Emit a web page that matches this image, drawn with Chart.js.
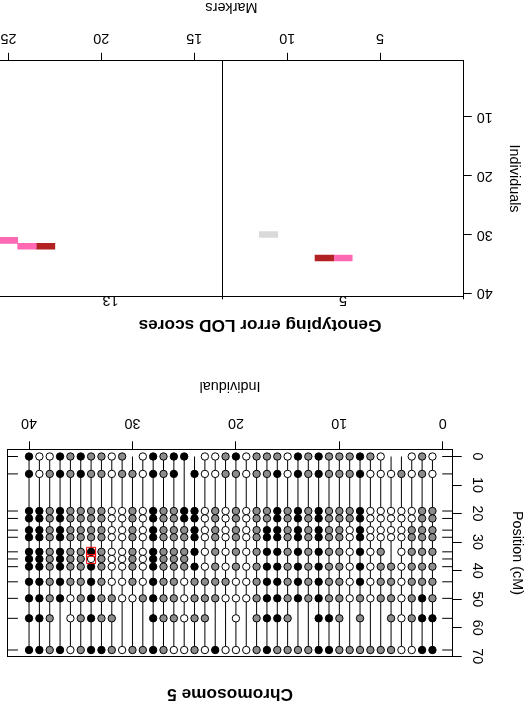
<!DOCTYPE html>
<html>
<head>
<meta charset="utf-8">
<title>Chromosome 5 genotypes and genotyping error LOD scores</title>
<script src="https://cdn.jsdelivr.net/npm/chart.js@4.4.1/dist/chart.umd.min.js"></script>
<style>
  html, body { margin: 0; padding: 0; background: #fff; overflow: hidden; }
  /* the whole sheet is shown turned upside down */
  #sheet { position: relative; width: 526px; height: 708px; overflow: hidden; background: #fff; transform: rotate(180deg); }
  #genoCanvas { position: absolute; left: 0; top: 0; }
  #elodCanvas { position: absolute; left: 0; top: 340px; }
</style>
</head>
<body>
<div id="sheet">
  <canvas id="genoCanvas" width="526" height="340"></canvas>
  <canvas id="elodCanvas" width="540" height="380"></canvas>
</div>
<script>
// ---- chromosome 5 genotype data ----
// marker positions on chromosome 5 (cM)
const markerPos = [0, 6.1, 19.1, 21.7, 25.8, 28.3, 33.4, 35.9, 38.6, 43.9, 49.7, 56.7, 67.8];
const individuals = [1, 2, 3, 4, 5, 6, 7, 8, 9, 10, 11, 12, 13, 14, 15, 16, 17, 18, 19, 20,
                     21, 22, 23, 24, 25, 26, 27, 28, 29, 30, 31, 32, 33, 34, 35, 36, 37, 38, 39, 40];
// one string per individual, one character per marker: A = AA, H = AB, B = BB, - = missing
const genotypes = [
  "AAHHHHH-HHHBB", "HHHHHHH-HHBBB", "AAAAHHH-HHHHA", "-HAAAAA-AAAAA", "-AAAAA--HHHHH",
  "AAAAAAH-HHH-H", "HAAAAAA-AAA-H", "BBBBBBB-BBHHH", "HHHHAAA-AAA-H", "HHHHHHH-HHHHH",
  "HHHHHHH-HHHBB", "BBBBBBB-BBBBB", "HHHHHHH-HHH-H", "BBBBBBB-BBB-H", "AAHHHHH-HHHHH",
  "HBBBBBB-BBBBH", "HHHHBBB-BBBBB", "HHHHHHH-HHHHH", "AAAAAAA-AAA-A", "BHHHHHH-HAAAA",
  "HHAAAAA-AHA-A", "AAHHHHH-HHH-B", "AAAAAAA-AHHHA", "-BBBBBB-BHHHH", "B-BBHHHHHAAAA",
  "BBHHHHHHHHHHA", "HHHHHHHHHHHHH", "BBBBBBBBBBBBB", "AAAAAAAAAAH-H", "-HHHHHHHHHA-H",
  "HHAAAAAAAAA-A", "AAAAAAAAAAHHH", "HHHHHHHHHHHHB", "HHHHHHBABBBBB", "BBHHHHHHHHHHH",
  "HHHHHHHHHHAAA", "BBBBBBBBBBB-B", "AHHHHHHHHHHHH", "AABBBBBBBBBBB", "BBBBBBBBBBBBB"
];
const genoFill = { A: "#ffffff", H: "#8c8c8c", B: "#000000" };

// ---- genotyping error LOD scores (chromosomes 5 and 13) ----
const chromosomes = ["5", "13"];
const chrMarkerCount = [13, 12];
const errMarker = [7, 8, 11, 23, 24, 25];
const errInd = [34, 34, 30, 32, 32, 31];
const errLevel = [2, 3, 1, 3, 2, 2];           // LOD class of each cell
const levelColors = ["#ffffff", "#d9d9d9", "#ff69b4", "#b22222"];

// ---- tick labels ----
const indTicks = [0, 10, 20, 30, 40];
const posTicks = [0, 10, 20, 30, 40, 50, 60, 70];
const markerTicks = [5, 10, 15, 20, 25];
const elodIndTicks = [10, 20, 30, 40];

Chart.defaults.font.family = '"Liberation Sans", Arial, Helvetica, sans-serif';
Chart.defaults.font.size = 14.4;
Chart.defaults.color = "#000";
Chart.defaults.animation = false;
Chart.defaults.plugins.legend.display = false;
Chart.defaults.plugins.tooltip.enabled = false;

const setTicks = vals => scale => { scale.ticks = vals.map(v => ({ value: v })); };
const fixWidth = w => scale => { scale.width = w; };
const fixHeight = h => scale => { scale.height = h; };

// vertical line for each individual from first to last marker
const linePts = [];
individuals.forEach(i => {
  linePts.push({ x: i, y: markerPos[0] }, { x: i, y: markerPos[markerPos.length - 1] }, { x: i, y: null });
});
const genoPoints = code => {
  const pts = [];
  genotypes.forEach((row, k) => {
    [...row].forEach((g, j) => { if (g === code) pts.push({ x: individuals[k], y: markerPos[j] }); });
  });
  return pts;
};
// genotypes on chromosome 5 whose error LOD passes the cutoff
const flagged = errMarker
  .map((m, k) => ({ m, ind: errInd[k], lvl: errLevel[k] }))
  .filter(e => e.m <= chrMarkerCount[0] && e.lvl >= 2)
  .map(e => ({ x: e.ind, y: markerPos[e.m - 1] }));

// small inner ticks at each marker position on both sides of the frame
const markerTickPlugin = {
  id: "markerTicks",
  afterDatasetsDraw(chart) {
    const { ctx, chartArea: a } = chart;
    const y = chart.scales.y;
    ctx.save();
    ctx.strokeStyle = "#000";
    ctx.lineWidth = 1;
    ctx.beginPath();
    markerPos.forEach(p => {
      const py = y.getPixelForValue(p);
      ctx.moveTo(a.left, py); ctx.lineTo(a.left + 10.5, py);
      ctx.moveTo(a.right, py); ctx.lineTo(a.right - 10.5, py);
    });
    ctx.stroke();
    ctx.restore();
  }
};

const dotSet = (label, code) => ({
  label, data: genoPoints(code), backgroundColor: genoFill[code], borderColor: "#000",
  borderWidth: 1, pointRadius: 3.7, pointHoverRadius: 3.7, order: 3
});

new Chart(document.getElementById("genoCanvas"), {
  type: "scatter",
  data: {
    datasets: [
      { label: "individual", data: linePts, showLine: true, spanGaps: false, borderColor: "#000",
        borderWidth: 1, pointRadius: 0, pointHoverRadius: 0, order: 4 },
      dotSet("AA", "A"),
      dotSet("AB", "H"),
      dotSet("BB", "B"),
      { label: "likely error", data: flagged, pointStyle: "rect", pointRadius: 6.4, pointHoverRadius: 6.4,
        backgroundColor: "rgba(0,0,0,0)", borderColor: "#ff0000", borderWidth: 1, order: 1 }
    ]
  },
  options: {
    responsive: false, devicePixelRatio: 1, events: [],
    layout: { padding: 0 },
    scales: {
      x: {
        type: "linear", position: "bottom", min: -0.96, max: 42.09,
        afterBuildTicks: setTicks(indTicks), afterFit: fixHeight(81.3),
        grid: { drawOnChartArea: false, tickLength: 8, color: "#000" },
        border: { color: "#000" },
        ticks: { padding: 10, maxRotation: 0, autoSkip: false },
        title: { display: true, text: "Individual", padding: { top: 0, bottom: 9.4 } }
      },
      xTop: {
        axis: "x", type: "linear", position: "top", min: -0.96, max: 42.09,
        afterBuildTicks: setTicks([]), afterFit: fixHeight(51.3),
        grid: { drawOnChartArea: false, drawTicks: false },
        border: { color: "#000" },
        ticks: { display: false },
        title: { display: true, text: "Chromosome 5", font: { size: 17.3, weight: "bold" }, padding: { top: 3.6, bottom: 0 } }
      },
      y: {
        type: "linear", position: "left", min: -2.52, max: 70.15,
        afterBuildTicks: setTicks(posTicks), afterFit: fixWidth(73.3),
        grid: { drawOnChartArea: false, tickLength: 9, color: "#000" },
        border: { color: "#000" },
        ticks: { minRotation: 90, maxRotation: 90, crossAlign: "center", padding: 7, autoSkip: false },
        title: { display: true, text: "Position (cM)", padding: { top: 0, bottom: 0 } }
      },
      yR: {
        axis: "y", type: "linear", position: "right", min: -2.52, max: 70.15,
        afterBuildTicks: setTicks([]), afterFit: fixWidth(5),
        grid: { drawOnChartArea: false, drawTicks: false },
        border: { color: "#000" },
        ticks: { display: false }
      }
    }
  },
  plugins: [markerTickPlugin]
});

// ---- error LOD image ----
const cells = errMarker.map((m, k) => ({ x: [m - 0.5, m + 0.5], y: errInd[k] }));
const cellColors = errLevel.map(l => levelColors[l]);
const boundaries = [0.5];
chrMarkerCount.forEach(n => boundaries.push(boundaries[boundaries.length - 1] + n));
const centers = chromosomes.map((c, k) => (boundaries[k] + boundaries[k + 1]) / 2);

new Chart(document.getElementById("elodCanvas"), {
  type: "bar",
  data: {
    datasets: [{ label: "error LOD", data: cells, backgroundColor: cellColors, borderWidth: 0,
                 categoryPercentage: 1, barPercentage: 1 }]
  },
  options: {
    indexAxis: "y", responsive: false, devicePixelRatio: 1, events: [],
    layout: { padding: { left: 0, top: 0, bottom: 0, right: 8 } },
    plugins: {
      title: {
        display: true, text: "Genotyping error LOD scores", color: "#000",
        font: { size: 17.3, weight: "bold" }, padding: { top: 32.6, bottom: 0 }
      }
    },
    scales: {
      x: {
        type: "linear", position: "bottom", min: 0.5, max: 25.5,
        afterBuildTicks: setTicks(markerTicks), afterFit: fixHeight(72.8),
        grid: { drawOnChartArea: false, tickLength: 8, color: "#000" },
        border: { color: "#000" },
        ticks: { padding: 6.2, maxRotation: 0, autoSkip: false },
        title: { display: true, text: "Markers", padding: { top: 0, bottom: 10.4 } }
      },
      xTop: {
        axis: "x", type: "linear", position: "top", min: 0.5, max: 25.5,
        afterBuildTicks: setTicks([...boundaries, ...centers].sort((a, b) => a - b)), afterFit: fixHeight(18.3),
        grid: {
          drawOnChartArea: true, tickLength: 3,
          color: c => (c.tick && c.tick.value === boundaries[1]) ? "#000" : "rgba(0,0,0,0)",
          tickColor: c => (c.tick && boundaries.includes(c.tick.value)) ? "#000" : "rgba(0,0,0,0)"
        },
        border: { color: "#000" },
        ticks: {
          padding: -7.9, maxRotation: 0, autoSkip: false,
          callback: v => { const k = centers.indexOf(v); return k >= 0 ? chromosomes[k] : ""; }
        }
      },
      y: {
        type: "linear", position: "left", min: 0.5, max: 40.5, offset: false,
        afterBuildTicks: setTicks(elodIndTicks), afterFit: fixWidth(62.3),
        grid: { offset: false, drawOnChartArea: false, tickLength: 8, color: "#000" },
        border: { color: "#000" },
        ticks: { padding: 5, autoSkip: false },
        title: { display: true, text: "Individuals", padding: { top: 3.4, bottom: 0 } }
      },
      yR: {
        axis: "y", type: "linear", position: "right", min: 0.5, max: 40.5, offset: false,
        afterBuildTicks: setTicks([]), afterFit: fixWidth(5.1),
        grid: { offset: false, drawOnChartArea: false, drawTicks: false },
        border: { color: "#000" },
        ticks: { display: false }
      }
    }
  }
});
</script>
</body>
</html>
